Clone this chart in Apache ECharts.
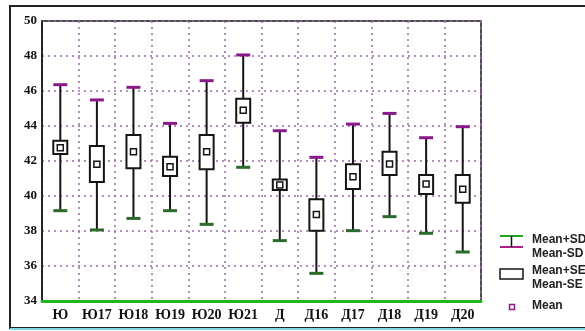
<!DOCTYPE html>
<html><head><meta charset="utf-8">
<script src="https://cdn.jsdelivr.net/npm/echarts@6/dist/echarts.min.js"></script>
<style>html,body{margin:0;padding:0;background:#fff}#c{width:585px;height:331px}</style>
</head><body><div id="c"></div>
<script>
const categories = ['Ю','Ю17','Ю18','Ю19','Ю20','Ю21','Д','Д16','Д17','Д18','Д19','Д20'];
const means   = [42.76,41.81,42.53,41.67,42.53,44.90,40.63,38.95,41.10,41.83,40.69,40.38];
const seUpper = [43.16,42.86,43.49,42.25,43.49,45.56,40.95,39.81,41.81,42.53,41.20,41.20];
const seLower = [42.40,40.80,41.58,41.14,41.53,44.19,40.34,38.02,40.40,41.20,40.11,39.62];
const sdUpper = [46.36,45.49,46.21,44.15,46.59,48.06,43.73,42.21,44.11,44.72,43.33,43.96];
const sdLower = [39.16,38.06,38.72,39.16,38.38,41.64,37.45,35.58,38.02,38.82,37.87,36.80];
const yTicks = [34,36,38,40,42,44,46,48,50];
const legendLabels = ['Mean+SD','Mean-SD','Mean+SE','Mean-SE','Mean'];

const data = categories.map((c,i)=>[i, means[i], seLower[i], seUpper[i], sdLower[i], sdUpper[i]]);
const chart = echarts.init(document.getElementById('c'), null, {renderer:'canvas'});
const ink = '#151515';
function renderItem(params, api){
  const i = api.value(0);
  const pm = api.coord([i, api.value(1)]);
  const pseL = api.coord([i, api.value(2)]);
  const pseH = api.coord([i, api.value(3)]);
  const psdL = api.coord([i, api.value(4)]);
  const psdH = api.coord([i, api.value(5)]);
  const x = pm[0];
  const bw = 14, cw = 14;
  return {type:'group', children:[
    {type:'line', shape:{x1:x,y1:psdH[1],x2:x,y2:psdL[1]}, style:{stroke:ink,lineWidth:2}},
    {type:'line', shape:{x1:x-cw/2,y1:psdH[1],x2:x+cw/2,y2:psdH[1]}, style:{stroke:'#8a1a8a',lineWidth:3}},
    {type:'line', shape:{x1:x-cw/2,y1:psdL[1],x2:x+cw/2,y2:psdL[1]}, style:{stroke:'#2a6a2a',lineWidth:3}},
    {type:'rect', shape:{x:x-bw/2,y:pseH[1],width:bw,height:pseL[1]-pseH[1]}, style:{fill:'#fff',stroke:ink,lineWidth:2}},
    {type:'rect', shape:{x:x-3,y:pm[1]-3,width:6,height:6}, style:{fill:'#fff',stroke:ink,lineWidth:1.5}}
  ]};
}
const lblFont = {fontFamily:'Liberation Serif', fontWeight:'bold', color:'#111'};
chart.setOption({
  animation:false,
  grid:{left:42,right:104,top:21,bottom:30,show:true,borderColor:ink,borderWidth:1.5},
  xAxis:{type:'category', data:categories, boundaryGap:true,
    axisLine:{lineStyle:{color:'#22b522',width:3}}, axisTick:{show:false},
    axisLabel:Object.assign({fontSize:14, margin:7, interval:0}, lblFont),
    splitLine:{show:true, interval:0, lineStyle:{color:'#9a6aa8', type:[2,4], width:1.5}}},
  yAxis:{type:'value', min:34, max:50, interval:2,
    axisLine:{show:true, lineStyle:{color:ink,width:1.5}}, axisTick:{show:false},
    axisLabel:Object.assign({fontSize:13, margin:5, formatter:v=>yTicks.includes(v)?String(v):''}, lblFont),
    splitLine:{show:true, lineStyle:{color:'#9a6aa8', type:[2,4], width:1.5}}},
  series:[{type:'custom', renderItem, data, encode:{x:0, y:[1,2,3,4,5]}, clip:false}],
  graphic:[
    {type:'rect', shape:{x:10,y:6,width:590,height:322}, style:{fill:null,stroke:'#222',lineWidth:2}, z:-1},
    {type:'line', shape:{x1:10,y1:329,x2:585,y2:329}, style:{stroke:'#7fd9e0',lineWidth:2}},
    {type:'line', shape:{x1:500,y1:236,x2:523,y2:236}, style:{stroke:'#1fa51f',lineWidth:2}},
    {type:'line', shape:{x1:500,y1:247,x2:523,y2:247}, style:{stroke:'#b0208a',lineWidth:2}},
    {type:'line', shape:{x1:511.5,y1:236,x2:511.5,y2:247}, style:{stroke:ink,lineWidth:1.5}},
    {type:'rect', shape:{x:500,y:269,width:23,height:10}, style:{fill:'#fff',stroke:ink,lineWidth:1.5}},
    {type:'rect', shape:{x:509.5,y:304.5,width:5,height:5}, style:{fill:'#fff',stroke:'#8a1a8a',lineWidth:1.5}},
    {type:'text', left:532, top:234, style:{text:legendLabels[0], font:'bold 12px "Liberation Sans"', fill:'#222'}},
    {type:'text', left:532, top:248, style:{text:legendLabels[1], font:'bold 12px "Liberation Sans"', fill:'#222'}},
    {type:'text', left:532, top:265, style:{text:legendLabels[2], font:'bold 12px "Liberation Sans"', fill:'#222'}},
    {type:'text', left:532, top:279, style:{text:legendLabels[3], font:'bold 12px "Liberation Sans"', fill:'#222'}},
    {type:'text', left:532, top:300, style:{text:legendLabels[4], font:'bold 12px "Liberation Sans"', fill:'#222'}}
  ]
});
</script></body></html>
